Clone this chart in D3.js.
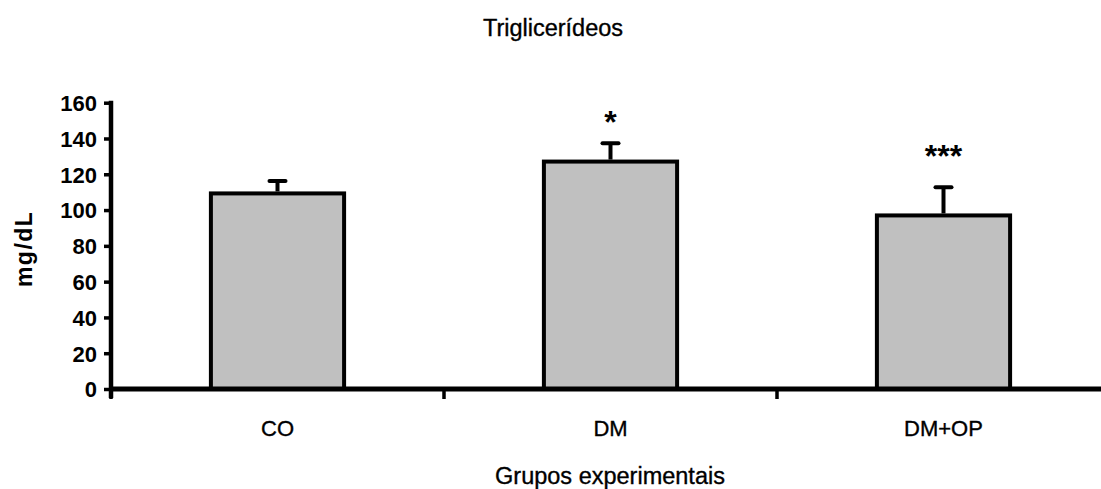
<!DOCTYPE html>
<html>
<head>
<meta charset="utf-8">
<script src="https://cdn.jsdelivr.net/npm/d3@7"></script>
<style>
  body { margin: 0; background: #fff; }
  text { font-family: Arial, "Liberation Sans", sans-serif; fill: #000; }
  text.soft { stroke: #000; stroke-width: 0.35; }
</style>
</head>
<body>
<svg id="chart" width="1101" height="489"></svg>
<script>
// data
var groups = ["CO", "DM", "DM+OP"];
var means = [109.3, 127.1, 97.0];
var errUp = [7.0, 10.3, 15.7];       // upper error (SD/SEM)
var sigLabels = ["", "*", "***"];
var sigLevels = [0, 153, 134];       // y value where the marks sit
var yTicks = [0, 20, 40, 60, 80, 100, 120, 140, 160];

var svg = d3.select("#chart");
var plotLeft = 111, plotRight = 1110, plotTop = 102.7, plotBottom = 389;

var x = d3.scaleBand()
    .domain(groups)
    .range([plotLeft, plotRight])
    .paddingInner(0.6)
    .paddingOuter(0.3);

var y = d3.scaleLinear()
    .domain([0, 160])
    .range([plotBottom, plotTop]);

// title
svg.append("text")
    .attr("class", "soft")
    .attr("x", 553)
    .attr("y", 36)
    .attr("text-anchor", "middle")
    .attr("font-size", 23.5)
    .text("Triglicerídeos");

// y axis
var yAxis = svg.append("g")
    .attr("transform", "translate(" + plotLeft + ",0)")
    .call(d3.axisLeft(y).tickValues(yTicks).tickSize(7).tickSizeOuter(0).tickPadding(7));
yAxis.select(".domain").remove();
yAxis.selectAll(".tick line").attr("stroke", "#000").attr("stroke-width", 3.5);
yAxis.selectAll(".tick text")
    .attr("font-size", 22)
    .attr("font-weight", "bold")
    .attr("font-family", "Arial, 'Liberation Sans', sans-serif")
    .attr("dy", "0.36em");
yAxis.append("line")
    .attr("x1", 0).attr("x2", 0)
    .attr("y1", y(160) - 2).attr("y2", y(0) + 9)
    .attr("stroke", "#000").attr("stroke-width", 4.5);

svg.append("text")
    .attr("transform", "translate(32," + (y(80) + 3) + ") rotate(-90)")
    .attr("text-anchor", "middle")
    .attr("font-size", 23)
    .attr("font-weight", "bold")
    .attr("letter-spacing", 1.5)
    .text("mg/dL");

// bars
svg.selectAll("rect.bar")
    .data(groups)
    .enter().append("rect")
    .attr("class", "bar")
    .attr("x", function(d) { return x(d); })
    .attr("y", function(d, i) { return y(means[i]); })
    .attr("width", x.bandwidth())
    .attr("height", function(d, i) { return y(0) - y(means[i]); })
    .attr("fill", "#c0c0c0")
    .attr("stroke", "#000")
    .attr("stroke-width", 4);

// error bars (upper only)
var err = svg.selectAll("g.err")
    .data(groups)
    .enter().append("g")
    .attr("class", "err");

err.append("line")
    .attr("x1", function(d) { return x(d) + x.bandwidth() / 2; })
    .attr("x2", function(d) { return x(d) + x.bandwidth() / 2; })
    .attr("y1", function(d, i) { return y(means[i]) - 2; })
    .attr("y2", function(d, i) { return y(means[i] + errUp[i]); })
    .attr("stroke", "#000")
    .attr("stroke-width", 4);

err.append("line")
    .attr("x1", function(d) { return x(d) + x.bandwidth() / 2 - 8; })
    .attr("x2", function(d) { return x(d) + x.bandwidth() / 2 + 8; })
    .attr("y1", function(d, i) { return y(means[i] + errUp[i]); })
    .attr("y2", function(d, i) { return y(means[i] + errUp[i]); })
    .attr("stroke", "#000")
    .attr("stroke-width", 4)
    .attr("stroke-linecap", "round");

// significance marks
svg.selectAll("text.sig")
    .data(groups)
    .enter().append("text")
    .attr("class", "sig")
    .attr("x", function(d) { return x(d) + x.bandwidth() / 2; })
    .attr("y", function(d, i) { return y(sigLevels[i]) + 18; })
    .attr("text-anchor", "middle")
    .attr("font-size", 32)
    .attr("font-weight", "bold")
    .text(function(d, i) { return sigLabels[i]; });

// x axis line and group boundary ticks
svg.append("line")
    .attr("x1", plotLeft - 2).attr("x2", 1101)
    .attr("y1", y(0)).attr("y2", y(0))
    .attr("stroke", "#000").attr("stroke-width", 5);

var step = x.step();
svg.selectAll("line.xtick")
    .data(groups)
    .enter().append("line")
    .attr("class", "xtick")
    .attr("x1", function(d) { return x(d) - step * 0.3; })
    .attr("x2", function(d) { return x(d) - step * 0.3; })
    .attr("y1", y(0))
    .attr("y2", y(0) + 10)
    .attr("stroke", "#000")
    .attr("stroke-width", 3.5);

svg.selectAll("text.xlab")
    .data(groups)
    .enter().append("text")
    .attr("class", "xlab soft")
    .attr("x", function(d) { return x(d) + x.bandwidth() / 2; })
    .attr("y", 436)
    .attr("text-anchor", "middle")
    .attr("font-size", 22)
    .text(function(d) { return d; });

svg.append("text")
    .attr("class", "soft")
    .attr("x", 610)
    .attr("y", 484)
    .attr("text-anchor", "middle")
    .attr("font-size", 23.5)
    .text("Grupos experimentais");
</script>
</body>
</html>
